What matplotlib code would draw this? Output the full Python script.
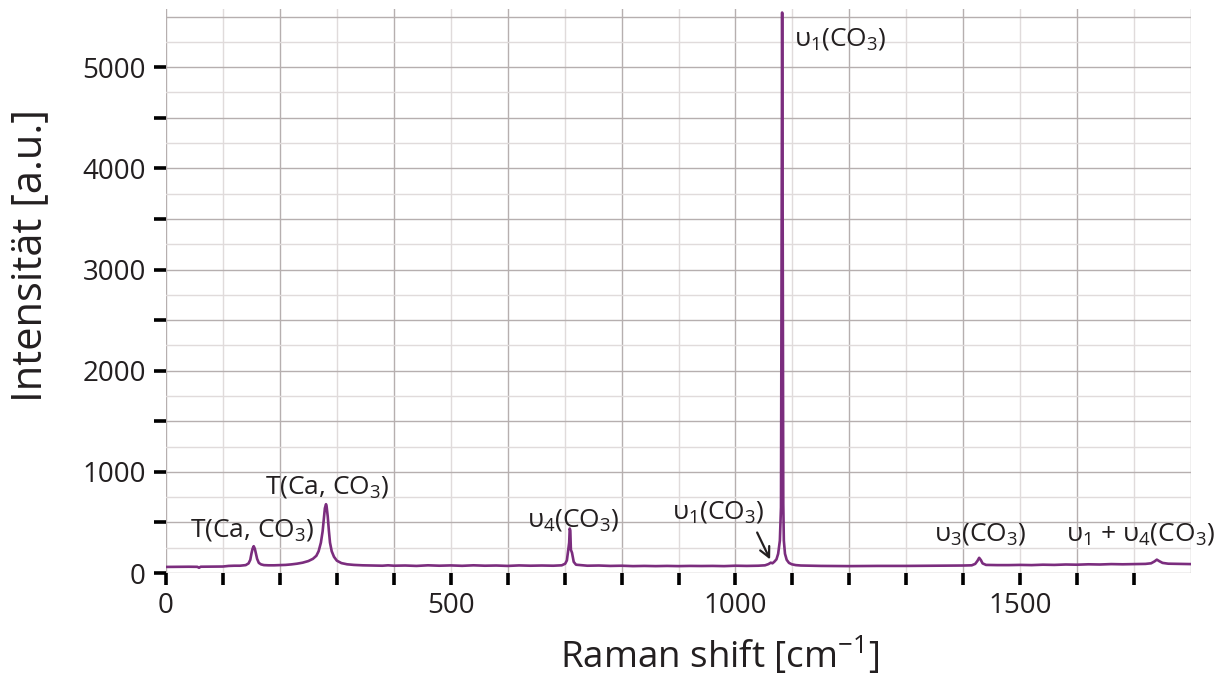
import matplotlib
matplotlib.use("Agg")
import matplotlib.pyplot as plt
from matplotlib.ticker import FuncFormatter

plt.rcParams["font.family"] = ["Open Sans", "DejaVu Sans"]
plt.rcParams["mathtext.fontset"] = "custom"
plt.rcParams["mathtext.rm"] = "Open Sans"
plt.rcParams["mathtext.it"] = "Open Sans:italic"

# Raman spectrum (shift in cm-1, intensity in a.u.)
shift = [0, 20, 40, 55, 58, 61, 80, 100, 110, 120, 130, 140, 145, 148, 150, 152, 154, 156, 158, 160,
         163, 167, 172, 180, 190, 200, 210, 220, 230, 240, 250, 258, 264, 268, 272, 275, 277, 279, 281, 282,
         284, 286, 288, 291, 295, 300, 308, 318, 330, 345, 360, 380, 390, 400, 420, 440, 460, 480, 500, 520,
         540, 560, 580, 600, 620, 640, 660, 680, 695, 701, 704, 706, 708, 709, 710, 711, 713, 716, 720, 740,
         760, 780, 800, 820, 840, 860, 880, 900, 920, 940, 960, 980, 1000, 1020, 1040, 1052, 1058, 1062, 1065, 1068,
         1072, 1075, 1078, 1080, 1081, 1082, 1083, 1084, 1085, 1087, 1090, 1094, 1099, 1106, 1115, 1130, 1150, 1200, 1250, 1300,
         1350, 1400, 1415, 1421, 1425, 1428, 1431, 1434, 1440, 1460, 1480, 1500, 1520, 1540, 1560, 1580, 1600, 1620, 1640, 1660,
         1680, 1700, 1720, 1730, 1736, 1740, 1744, 1750, 1760, 1780, 1800]
intensity = [60, 61, 62, 61, 52, 62, 63, 64, 70, 72, 72, 78, 95, 130, 190, 240, 265, 240, 190, 140,
             100, 85, 78, 76, 76, 78, 80, 85, 92, 102, 118, 140, 170, 215, 300, 410, 530, 640, 680, 660,
             560, 420, 300, 215, 160, 122, 98, 86, 80, 76, 74, 72, 76, 72, 74, 70, 76, 72, 75, 71,
             76, 72, 74, 70, 75, 72, 74, 72, 76, 92, 125, 210, 300, 440, 420, 230, 200, 110, 82, 72,
             74, 70, 72, 68, 70, 68, 70, 68, 70, 69, 70, 68, 72, 70, 72, 76, 88, 102, 96, 110,
             135, 190, 320, 650, 2980, 5540, 3370, 680, 320, 190, 130, 100, 86, 78, 74, 72, 70, 68, 70, 70,
             72, 74, 76, 90, 120, 150, 128, 95, 80, 78, 78, 80, 78, 82, 80, 84, 82, 86, 84, 88,
             86, 88, 90, 96, 115, 132, 118, 100, 92, 90, 88]

x_ticks = list(range(0, 1701, 100))
y_ticks = list(range(0, 5001, 500))

labels = ["T(Ca, CO$_3$)", "T(Ca, CO$_3$)", "υ$_4$(CO$_3$)", "υ$_1$(CO$_3$)",
          "υ$_1$(CO$_3$)", "υ$_3$(CO$_3$)", "υ$_1$ + υ$_4$(CO$_3$)"]
label_x = [42, 174, 634, 888, 1102, 1348, 1580]
label_y = [356, 790, 464, 543, 5217, 326, 326]

fig = plt.figure(figsize=(12.17, 6.78), dpi=100)
ax = fig.add_axes([166 / 1217, 1 - 573 / 678, 1025 / 1217, 564 / 678])

for xv in range(0, 1801, 100):
    ax.axvline(xv, color="#b6afaf" if xv % 200 == 0 else "#e0dbdb", lw=1.0, zorder=0)
for yv in range(0, 5501, 250):
    ax.axhline(yv, color="#b6afaf" if yv % 500 == 0 else "#e0dbdb", lw=1.0, zorder=0)

ax.plot(shift, intensity, color="#7b2d7e", lw=1.9, zorder=3)

ax.set_xlim(0, 1800)
ax.set_ylim(0, 5575)
for s in ax.spines.values():
    s.set_visible(False)

ax.set_xticks(x_ticks)
ax.set_yticks(y_ticks)
ax.xaxis.set_major_formatter(FuncFormatter(lambda v, p: f"{v:.0f}" if v % 500 == 0 else ""))
ax.yaxis.set_major_formatter(FuncFormatter(lambda v, p: f"{v:.0f}" if v % 1000 == 0 else ""))
ax.tick_params(axis="both", direction="out", length=8.6, width=2.6, color="black",
               labelsize=20, pad=5, labelcolor="#231f20")
ax.tick_params(axis="y", pad=6)

for t, xv, yv in zip(labels, label_x, label_y):
    ax.text(xv, yv, t, fontsize=19, ha="left", va="baseline", color="#231f20", clip_on=False)

ax.annotate("", xy=(1063, 109), xytext=(1036, 425),
            arrowprops=dict(arrowstyle="->", color="#231f20", lw=1.6, mutation_scale=18))

fig.text(720 / 1217, 1 - 668 / 678, "Raman shift [cm$^{-1}$]", fontsize=26.5,
         ha="center", va="baseline", color="#231f20")
fig.text(30 / 1217, 1 - 255 / 678, "Intensität [a.u.]", fontsize=30, rotation=90,
         ha="center", va="center", color="#231f20")

fig.savefig("out.png", dpi=100)
